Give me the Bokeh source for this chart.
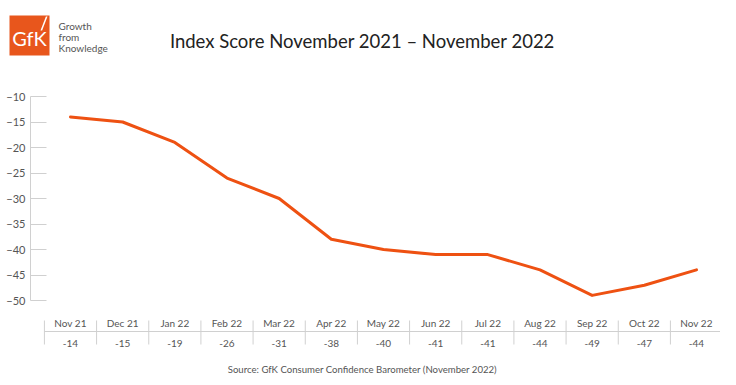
from bokeh.plotting import figure
from bokeh.layouts import column
from bokeh.models import Range1d, FixedTicker, ColumnDataSource
from bokeh.core.properties import value
from bokeh.embed import file_html
from bokeh.resources import INLINE

# ---- data ----
months = ["Nov 21", "Dec 21", "Jan 22", "Feb 22", "Mar 22", "Apr 22", "May 22",
          "Jun 22", "Jul 22", "Aug 22", "Sep 22", "Oct 22", "Nov 22"]
line_values = [-14, -15, -19, -26, -30, -38, -40, -41, -41, -44, -49, -47, -44]
table_values = ["-14", "-15", "-19", "-26", "-31", "-38", "-40", "-41", "-41", "-44", "-49", "-47", "-44"]
y_ticks = [-10, -15, -20, -25, -30, -35, -40, -45, -50]
title_text = "Index Score November 2021 \u2013 November 2022"
source_text = "Source: GfK Consumer Confidence Barometer (November 2022)"
logo_lines = ["Growth", "from", "Knowledge"]

FONT = "Lato"
ORANGE = "#E8561C"
LINE = "#EE5112"
GREY = "#555555"

W = 720
T = 70            # header strip height
H = 307           # chart height
LEFT = 30
X0_PX, XPX = 70.0, 52.167        # x=0 at canvas 70, px per unit
Y10_PX, YPX = 96.0 - T, 5.1      # y=-10 at chart canvas y, px per unit

# ---------- header (logo + title), pixel-like coordinates ----------
hdr = figure(width=W, height=T, output_backend="svg", toolbar_location=None,
             x_range=Range1d(0, W), y_range=Range1d(T, 0),
             min_border=0, x_axis_location=None, y_axis_location=None)
hdr.frame_align = False
hdr.outline_line_color = None
hdr.grid.visible = False

hdr.quad(left=[9], right=[49], top=[15], bottom=[55], fill_color=ORANGE, line_color=None)
hdr.text(x=[29], y=[37], text=["GfK"], text_font=value(FONT), text_font_size="20px",
         text_color="white", text_align="center", text_baseline="middle")
hdr.patch(x=[40, 41.6, 47, 45.4], y=[30, 30, 16, 16], fill_color="white", line_color=None)
hdr.text(x=[58] * 3, y=[25, 36, 47], text=logo_lines, text_font=value(FONT),
         text_font_size="10px", text_color=GREY, text_align="left", text_baseline="middle")
hdr.text(x=[362], y=[40], text=[title_text], text_font=value(FONT), text_font_size="18.5px",
         text_color="#222222", text_align="center", text_baseline="middle")

# ---------- chart ----------
x_start = -(X0_PX - LEFT) / XPX
x_end = (W - X0_PX) / XPX
y_end = -10 + Y10_PX / YPX
y_start = -10 - (H - Y10_PX) / YPX

def ydat(page_y):
    return -10 - (page_y - T - Y10_PX) / YPX

def xdat(canvas_x):
    return (canvas_x - X0_PX) / XPX

p = figure(width=W, height=H, output_backend="svg", toolbar_location=None,
           x_range=Range1d(x_start, x_end), y_range=Range1d(y_start, y_end),
           min_border_left=LEFT, min_border_right=0, min_border_top=0, min_border_bottom=0,
           x_axis_location=None)
p.frame_align = False
p.outline_line_color = None
p.grid.visible = False

yax = p.yaxis[0]
yax.ticker = FixedTicker(ticks=y_ticks)
yax.bounds = (-50, -10)
yax.axis_line_color = "#d0d0d0"
yax.major_tick_line_color = "#d0d0d0"
yax.major_tick_in = 16
yax.major_tick_out = 0
yax.minor_tick_line_color = None
yax.major_label_standoff = 5
yax.major_label_text_font = FONT
yax.major_label_text_font_size = "11px"
yax.major_label_text_color = GREY

xs = list(range(len(months)))

p.line(xs, line_values, line_color=LINE, line_width=3, line_join="round", line_cap="round")

# table below the chart
bounds = [i - 0.5 for i in xs] + [xs[-1] + 0.5]
p.segment(x0=bounds, x1=bounds, y0=[ydat(320)] * len(bounds), y1=[ydat(344)] * len(bounds),
          line_color="#d0d0d0", line_width=1)
p.segment(x0=[bounds[0]], x1=[bounds[-1]], y0=[ydat(331)], y1=[ydat(331)],
          line_color="#d0d0d0", line_width=1)
src = ColumnDataSource(dict(x=xs, m=months, v=table_values))
p.text(x="x", y=ydat(322), text="m", source=src, text_font=value(FONT), text_font_size="10px",
       text_color=GREY, text_align="center", text_baseline="middle")
p.text(x="x", y=ydat(343), text="v", source=src, text_font=value(FONT), text_font_size="10px",
       text_color=GREY, text_align="center", text_baseline="middle")

p.text(x=[xdat(362)], y=[ydat(369)], text=[source_text], text_font=value(FONT),
       text_font_size="9.6px", text_color=GREY, text_align="center", text_baseline="middle")

layout = column(hdr, p, spacing=0)
open("out.html", "w").write(file_html(layout, INLINE))
